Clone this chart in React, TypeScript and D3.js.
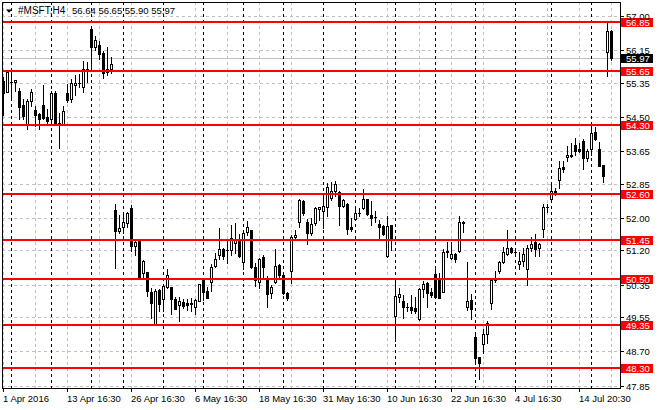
import React from 'react';
import * as d3 from 'd3';

const width = 660;
const height = 410;
const plotLeft = 2;
const plotRight = 620;
const plotTop = 2;
const plotBottom = 388;
const fontFamily = '"Liberation Sans", Arial, sans-serif';

// H4 bars of #MSFT, 1 Apr 2016 -> 15 Jul 2016
const opens = [
  55.38, 55.11, 55.36, 55.36, 55.14, 54.80, 54.33, 54.90, 54.67, 54.58,
  54.80, 54.49, 54.46, 55.10, 54.33, 54.33, 55.09, 54.95, 55.29, 55.34,
  55.25, 55.64, 56.68, 56.24, 56.28, 56.09, 55.70, 55.70, 52.20, 51.67,
  51.77, 51.87, 52.24, 51.32, 51.46, 50.63, 50.66, 50.18, 49.38, 50.22,
  49.99, 50.30, 50.30, 49.99, 49.84, 49.93, 49.89, 49.88, 49.81, 49.95,
  50.47, 50.20, 50.42, 50.82, 51.09, 51.24, 51.20, 51.21, 51.38, 51.49,
  50.92, 51.65, 51.71, 50.78, 50.43, 51.03, 50.49, 50.14, 50.41, 50.84,
  50.59, 50.14, 50.68, 51.52, 51.91, 52.42, 51.91, 51.64, 51.87, 52.22,
  52.18, 52.28, 52.49, 52.66, 52.64, 52.31, 52.34, 51.79, 51.97, 52.12,
  52.26, 52.47, 52.08, 52.02, 51.85, 51.81, 51.05, 51.83, 49.58, 50.06,
  49.95, 49.81, 49.79, 49.77, 49.50, 50.24, 50.39, 50.16, 50.61, 50.53,
  50.16, 51.17, 51.01, 51.10, 51.19, 51.90, 49.79, 49.97, 49.05, 48.56,
  48.89, 49.13, 49.89, 50.47, 50.70, 50.91, 51.10, 51.25, 51.17, 50.86,
  50.94, 50.73, 51.25, 51.42, 51.25, 51.72, 52.27, 52.46, 52.67, 52.93,
  53.27, 53.52, 53.54, 53.82, 53.70, 53.91, 53.48, 53.70, 54.12, 53.70,
  53.31, 56.12, 56.64,
];
const highs = [
  55.48, 55.63, 55.66, 55.41, 55.21, 54.94, 54.94, 55.19, 54.77, 54.61,
  55.28, 54.69, 55.14, 55.14, 54.59, 54.77, 55.32, 55.43, 55.54, 55.56,
  55.89, 55.87, 56.75, 56.50, 56.38, 56.14, 56.22, 55.98, 52.35, 52.08,
  52.16, 52.16, 52.32, 51.46, 51.48, 50.96, 50.66, 50.26, 50.24, 50.24,
  50.35, 50.73, 50.30, 50.04, 50.05, 49.99, 49.99, 50.02, 49.99, 50.36,
  50.51, 50.30, 50.86, 51.13, 51.75, 51.27, 51.46, 51.83, 51.87, 51.61,
  51.71, 51.94, 51.71, 50.88, 51.02, 51.09, 50.57, 50.35, 51.23, 50.86,
  50.62, 50.18, 51.58, 51.71, 52.47, 52.45, 51.98, 51.99, 52.28, 52.28,
  52.53, 52.88, 52.90, 52.92, 52.66, 52.46, 52.37, 51.99, 52.30, 52.24,
  52.72, 52.47, 52.43, 52.18, 51.95, 51.83, 52.04, 51.83, 50.49, 50.26,
  50.10, 49.89, 50.10, 50.06, 50.26, 50.44, 50.43, 50.26, 50.80, 50.63,
  51.24, 51.42, 51.42, 51.13, 52.05, 51.93, 50.92, 50.12, 49.17, 48.57,
  49.26, 49.46, 50.51, 50.70, 50.95, 51.29, 51.71, 51.29, 51.21, 51.17,
  51.27, 51.33, 51.52, 51.61, 51.39, 52.35, 52.35, 52.82, 52.74, 53.40,
  53.40, 53.78, 53.85, 53.99, 53.85, 53.96, 53.70, 54.28, 54.25, 53.89,
  53.31, 56.83, 56.65,
];
const lows = [
  54.55, 55.11, 54.92, 55.15, 54.44, 54.44, 54.20, 54.78, 54.29, 54.21,
  54.46, 54.34, 54.33, 54.32, 53.74, 54.33, 54.88, 54.86, 55.05, 55.25,
  55.13, 55.37, 55.68, 56.17, 55.93, 55.47, 55.53, 55.60, 50.76, 51.62,
  51.64, 51.79, 51.19, 51.09, 50.51, 50.51, 50.07, 49.54, 49.36, 49.70,
  49.70, 50.26, 49.62, 49.74, 49.46, 49.77, 49.73, 49.70, 49.62, 49.95,
  49.97, 50.03, 50.20, 50.78, 50.98, 50.98, 50.90, 51.09, 51.13, 51.03,
  50.73, 51.58, 50.76, 50.32, 50.28, 50.51, 49.79, 50.02, 50.39, 50.51,
  50.12, 49.97, 50.39, 51.46, 51.79, 52.08, 51.35, 51.58, 51.83, 51.95,
  51.75, 52.06, 52.45, 52.55, 51.83, 52.28, 51.60, 51.68, 51.95, 52.04,
  52.22, 52.08, 51.83, 51.91, 51.46, 51.58, 51.03, 51.21, 48.97, 49.93,
  49.54, 49.70, 49.66, 49.66, 49.48, 50.06, 49.79, 50.06, 50.02, 50.02,
  50.16, 51.03, 50.98, 50.92, 51.15, 51.66, 49.73, 49.50, 48.38, 48.01,
  48.67, 48.92, 49.75, 50.43, 50.63, 50.88, 51.09, 51.13, 51.13, 50.73,
  50.82, 50.35, 51.19, 51.06, 51.05, 51.52, 52.14, 52.41, 52.56, 52.74,
  53.13, 53.40, 53.52, 53.56, 53.64, 53.21, 53.40, 53.56, 53.92, 53.30,
  52.90, 55.51, 55.90,
];
const closes = [
  55.10, 55.61, 55.36, 55.41, 54.76, 54.53, 54.90, 55.13, 54.56, 54.46,
  54.48, 54.39, 55.10, 54.33, 54.34, 54.65, 54.92, 55.33, 55.34, 55.35,
  55.70, 55.70, 56.24, 56.40, 56.05, 55.60, 55.61, 55.81, 51.67, 51.75,
  51.90, 52.12, 51.31, 51.40, 50.53, 50.93, 50.20, 49.89, 50.20, 49.87,
  50.32, 50.58, 49.99, 49.74, 49.95, 49.83, 49.84, 49.90, 49.97, 50.36,
  50.16, 50.03, 50.80, 51.00, 51.23, 51.05, 51.22, 51.50, 51.48, 51.05,
  51.62, 51.79, 50.78, 50.47, 51.00, 50.78, 50.12, 50.30, 50.82, 50.59,
  50.14, 50.02, 51.52, 51.58, 52.45, 52.12, 51.64, 51.85, 52.24, 52.27,
  52.30, 52.76, 52.66, 52.84, 52.31, 52.45, 51.72, 51.72, 52.13, 52.13,
  52.47, 52.10, 52.01, 52.02, 51.79, 51.61, 51.81, 51.46, 50.07, 50.12,
  49.79, 49.81, 49.73, 49.69, 50.25, 50.36, 50.14, 50.10, 50.04, 50.03,
  51.15, 51.18, 51.10, 50.98, 51.90, 51.88, 49.95, 49.75, 48.53, 48.41,
  49.13, 49.41, 50.47, 50.53, 50.91, 51.15, 51.25, 51.15, 51.17, 50.94,
  51.10, 51.27, 51.35, 51.23, 51.35, 52.27, 52.28, 52.68, 52.61, 53.23,
  53.21, 53.56, 53.55, 53.67, 53.67, 53.48, 53.66, 54.10, 53.96, 53.30,
  53.03, 56.63, 55.97,
];

const priceTicks = [57.0, 56.15, 55.35, 54.5, 53.65, 52.85, 52.0, 51.2, 50.35, 49.55, 48.7, 47.85];
const levels = [56.85, 55.65, 54.3, 52.6, 51.45, 50.5, 49.35, 48.3];
const timeLabels = ['1 Apr 2016', '13 Apr 16:30', '26 Apr 16:30', '6 May 16:30', '18 May 16:30',
  '31 May 16:30', '10 Jun 16:30', '22 Jun 16:30', '4 Jul 16:30', '14 Jul 20:30'];
const timeLabelBars = [0, 16, 32, 48, 64, 80, 96, 112, 128, 144];
const separatorBars = [2, 12, 22, 30, 40, 50, 60, 70, 80, 88, 98, 108, 118, 128, 137, 147];
const gridBars = d3.range(0, 153, 8);
const lastPrice = 55.97;
const title = '#MSFT,H4';
const titleValues = '56.64 56.65 55.90 55.97';

const xScale = d3.scaleLinear().domain([0, 152]).range([3, 3 + 4 * 152]);
const yScale = d3.scaleLinear().domain([47.797, 57.345]).range([plotBottom, plotTop]);
const py = (p: number) => Math.round(yScale(p));

const Candles = () => (
  <g shapeRendering="crispEdges">
    {opens.map((o, i) => {
      const c = closes[i];
      const x = xScale(i);
      const top = py(Math.max(o, c));
      const bot = py(Math.min(o, c));
      const bull = c > o;
      return (
        <g key={i}>
          <line x1={x + 0.5} x2={x + 0.5} y1={py(highs[i])} y2={py(lows[i]) + 1} stroke="black" strokeWidth={1} />
          {bot - top < 1 ?
            <line x1={x - 1} x2={x + 2} y1={top + 0.5} y2={top + 0.5} stroke="black" strokeWidth={1} />
            : bull ?
              <rect x={x - 0.5} y={top + 0.5} width={2} height={bot - top} fill="white" stroke="black" strokeWidth={1} />
              : <rect x={x - 1} y={top} width={3} height={bot - top + 1} fill="black" />
          }
        </g>
      );
    })}
  </g>
);

const Grid = () => (
  <g shapeRendering="crispEdges">
    {priceTicks.map(v => (
      <line key={v} x1={plotLeft} x2={plotRight} y1={py(v) + 0.5} y2={py(v) + 0.5} stroke="#c0c0c0" strokeDasharray="3,3" />
    ))}
    {gridBars.map(b => (
      <line key={b} x1={xScale(b) + 0.5} x2={xScale(b) + 0.5} y1={plotTop} y2={plotBottom} stroke="#c0c0c0" strokeDasharray="3,3" />
    ))}
    <line x1={plotLeft} x2={plotRight} y1={py(lastPrice) + 0.5} y2={py(lastPrice) + 0.5} stroke="#c0c0c0" />
    {separatorBars.map(b => (
      <line key={b} x1={xScale(b) + 0.5} x2={xScale(b) + 0.5} y1={plotTop} y2={plotBottom} stroke="black" strokeDasharray="3,3" />
    ))}
  </g>
);

const Axes = () => (
  <g>
    <g shapeRendering="crispEdges">
      <rect x={plotLeft + 0.5} y={plotTop + 0.5} width={plotRight - plotLeft} height={plotBottom - plotTop} fill="none" stroke="black" />
      {priceTicks.map(v => (
        <line key={v} x1={plotRight} x2={plotRight + 4} y1={py(v) + 0.5} y2={py(v) + 0.5} stroke="black" />
      ))}
      {timeLabelBars.map(b => (
        <line key={b} x1={xScale(b) + 0.5} x2={xScale(b) + 0.5} y1={plotBottom} y2={plotBottom + 4} stroke="black" />
      ))}
    </g>
    {priceTicks.map(v => (
      <text key={v} x={626} y={py(v) + 4} fontSize={9.5} fontFamily={fontFamily} fill="black">{v.toFixed(2)}</text>
    ))}
    {timeLabels.map((t, i) => (
      <text key={t} x={xScale(timeLabelBars[i])} y={402} fontSize={9.5} fontFamily={fontFamily} fill="black">{t}</text>
    ))}
  </g>
);

const Levels = () => (
  <g>
    <g shapeRendering="crispEdges">
      {levels.map(v => (
        <rect key={v} x={plotLeft} y={py(v) - 1} width={plotRight - plotLeft} height={2} fill="#ff0000" />
      ))}
      {levels.map(v => (
        <rect key={'b' + v} x={621} y={py(v) - 4} width={32} height={9} fill="#ff0000" />
      ))}
      <rect x={621} y={py(lastPrice) - 4} width={32} height={9} fill="black" />
    </g>
    {levels.map(v => (
      <text key={v} x={626} y={py(v) + 4} fontSize={9.5} fontFamily={fontFamily} fill="white">{v.toFixed(2)}</text>
    ))}
    <text x={626} y={py(lastPrice) + 4} fontSize={9.5} fontFamily={fontFamily} fill="white">{lastPrice.toFixed(2)}</text>
  </g>
);

const App = () => (
  <svg width={width} height={height} style={{position: 'absolute', left: 0, top: 0, background: 'white'}}>
    <rect width={width} height={height} fill="white" />
    <Grid />
    <Candles />
    <Levels />
    <Axes />
    <path d="M6,9.5 L12,9.5 L9,12.7 Z" fill="black" />
    <text x={18} y={14} fontSize={10} fontFamily={fontFamily} fill="black">{title}</text>
    <text x={72} y={14} fontSize={9.5} fontFamily={fontFamily} fill="black">{titleValues}</text>
  </svg>
);

export default App;
